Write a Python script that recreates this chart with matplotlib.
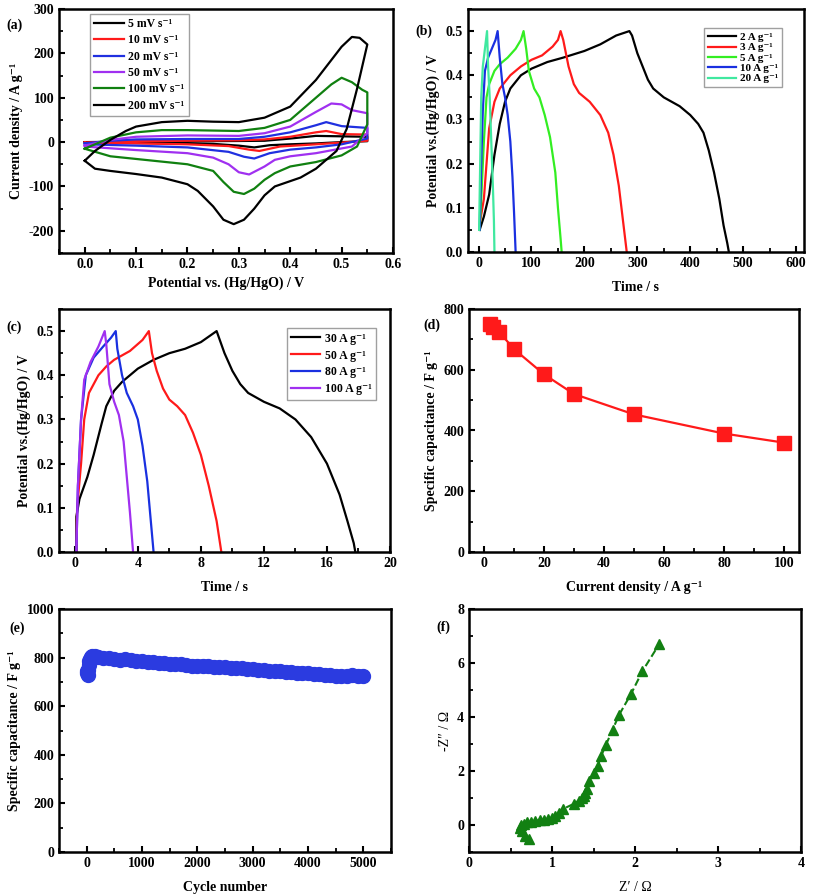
import numpy as np
import matplotlib
matplotlib.use("Agg")
import matplotlib.pyplot as plt
from matplotlib.ticker import MultipleLocator

plt.rcParams['font.family'] = ['Liberation Serif', 'DejaVu Serif']
plt.rcParams['font.weight'] = 'bold'
plt.rcParams['axes.labelweight'] = 'bold'
plt.rcParams['axes.linewidth'] = 1.8
plt.rcParams['xtick.direction'] = 'in'
plt.rcParams['ytick.direction'] = 'in'
plt.rcParams['xtick.major.width'] = 1.5
plt.rcParams['ytick.major.width'] = 1.5
plt.rcParams['xtick.minor.width'] = 1.3
plt.rcParams['ytick.minor.width'] = 1.3
plt.rcParams['xtick.major.size'] = 4
plt.rcParams['ytick.major.size'] = 4
plt.rcParams['xtick.minor.size'] = 3
plt.rcParams['ytick.minor.size'] = 3
plt.rcParams['font.size'] = 10
plt.rcParams['axes.unicode_minus'] = False

SUP = "\u207b\u00b9"  # superscript -1

# ---- (a) CV curves: anodic branch then cathodic branch ----
cv_labels = ["5 mV s" + SUP, "10 mV s" + SUP, "20 mV s" + SUP,
             "50 mV s" + SUP, "100 mV s" + SUP, "200 mV s" + SUP]
cv_colors = ["black", "#ff1a1a", "#2030e0", "#a030f0", "#108010", "black"]

cv5_x = [0.0, 0.1, 0.2, 0.3, 0.35, 0.4, 0.45, 0.5, 0.55, 0.55, 0.5, 0.45, 0.4, 0.36, 0.33, 0.3, 0.25, 0.2, 0.1, 0.0, 0.0]
cv5_y = [0, 1, 2, 2.5, 3, 8, 14, 13, 12, 2, 0, -3, -5, -7, -12, -8, -4, -3, -2, -1, 0]
cv10_x = [0.0, 0.1, 0.2, 0.3, 0.35, 0.4, 0.45, 0.47, 0.5, 0.55, 0.55, 0.5, 0.45, 0.38, 0.34, 0.32, 0.28, 0.2, 0.1, 0.0, 0.0]
cv10_y = [-1, 2, 3, 4, 6, 12, 22, 25, 18, 17, 3, -1, -5, -10, -20, -17, -9, -5, -3, -2, -1]
cv20_x = [0.0, 0.05, 0.1, 0.2, 0.3, 0.35, 0.4, 0.45, 0.47, 0.5, 0.55, 0.55, 0.5, 0.45, 0.4, 0.36, 0.33, 0.31, 0.28, 0.2, 0.1, 0.0, 0.0]
cv20_y = [-3, 3, 6, 7, 7, 12, 22, 38, 45, 36, 32, 8, -5, -12, -17, -25, -37, -33, -22, -12, -8, -5, -3]
cv50_x = [0.0, 0.05, 0.1, 0.2, 0.3, 0.35, 0.4, 0.45, 0.48, 0.5, 0.52, 0.55, 0.55, 0.52, 0.45, 0.4, 0.37, 0.35, 0.32, 0.3, 0.28, 0.25, 0.2, 0.1, 0.0, 0.0]
cv50_y = [-8, 5, 12, 15, 14, 20, 35, 68, 87, 85, 72, 65, 20, -10, -25, -32, -40, -55, -73, -68, -50, -35, -25, -18, -10, -8]
cv100_x = [0.0, 0.05, 0.1, 0.15, 0.2, 0.3, 0.35, 0.4, 0.45, 0.48, 0.5, 0.52, 0.54, 0.55, 0.55, 0.53, 0.5, 0.45, 0.4, 0.37, 0.35, 0.33, 0.31, 0.29, 0.27, 0.25, 0.2, 0.1, 0.05, 0.0]
cv100_y = [-15, 10, 22, 27, 27, 25, 32, 50, 100, 130, 145, 135, 118, 112, 40, -10, -30, -45, -55, -70, -85, -105, -117, -112, -90, -65, -50, -38, -32, -15]
cv200_x = [0.0, 0.02, 0.05, 0.08, 0.1, 0.15, 0.2, 0.25, 0.3, 0.35, 0.4, 0.45, 0.48, 0.5, 0.52, 0.535, 0.55, 0.53, 0.51, 0.49, 0.45, 0.42, 0.4, 0.37, 0.35, 0.33, 0.31, 0.29, 0.27, 0.25, 0.22, 0.2, 0.15, 0.1, 0.05, 0.02, 0.0]
cv200_y = [-42, -20, 5, 25, 35, 45, 48, 46, 45, 55, 80, 140, 185, 215, 237, 235, 220, 120, 30, -20, -60, -80, -88, -100, -120, -150, -175, -185, -175, -145, -110, -95, -80, -72, -65, -60, -42]

# ---- (b) GCD low current ----
b_labels = ["2 A g" + SUP, "3 A g" + SUP, "5 A g" + SUP, "10 A g" + SUP, "20 A g" + SUP]
b_colors = ["black", "#ff1a1a", "#33ee22", "#1a30e0", "#40e8a0"]
b2_t = [2, 10, 20, 30, 40, 50, 60, 80, 100, 130, 160, 200, 230, 260, 285, 290, 300, 310, 320, 330, 350, 380, 400, 415, 425, 435, 445, 455, 463, 470, 473]
b2_v = [0.05, 0.08, 0.13, 0.22, 0.29, 0.34, 0.37, 0.40, 0.415, 0.43, 0.44, 0.455, 0.47, 0.49, 0.5, 0.49, 0.45, 0.42, 0.39, 0.37, 0.35, 0.33, 0.31, 0.29, 0.27, 0.23, 0.18, 0.12, 0.06, 0.02, 0.0]
b3_t = [3, 10, 20, 30, 40, 60, 80, 100, 120, 140, 150, 155, 160, 170, 180, 190, 210, 230, 245, 255, 265, 272, 278, 280]
b3_v = [0.07, 0.12, 0.28, 0.34, 0.37, 0.40, 0.42, 0.435, 0.445, 0.465, 0.48, 0.5, 0.48, 0.42, 0.38, 0.36, 0.34, 0.31, 0.27, 0.22, 0.15, 0.08, 0.02, 0.0]
b5_t = [2, 5, 10, 15, 20, 30, 40, 55, 70, 80, 85, 90, 95, 100, 105, 115, 125, 135, 145, 150, 155, 157]
b5_v = [0.05, 0.12, 0.25, 0.35, 0.38, 0.41, 0.425, 0.44, 0.46, 0.48, 0.5, 0.46, 0.41, 0.39, 0.37, 0.35, 0.31, 0.26, 0.18, 0.10, 0.03, 0.0]
b10_t = [2, 5, 8, 12, 18, 25, 32, 36, 40, 45, 50, 55, 60, 64, 67, 69, 70]
b10_v = [0.05, 0.2, 0.32, 0.41, 0.44, 0.46, 0.48, 0.5, 0.44, 0.38, 0.35, 0.31, 0.25, 0.17, 0.09, 0.03, 0.0]
b20_t = [1, 3, 5, 8, 12, 16, 18, 21, 24, 27, 29, 30]
b20_v = [0.05, 0.2, 0.35, 0.42, 0.46, 0.5, 0.42, 0.35, 0.25, 0.15, 0.07, 0.0]

# ---- (c) GCD high current ----
c_labels = ["30 A g" + SUP, "50 A g" + SUP, "80 A g" + SUP, "100 A g" + SUP]
c_colors = ["black", "#ff1a1a", "#1a30e0", "#a030f0"]
c30_t = [0.1, 0.1, 0.3, 0.8, 1.2, 1.7, 2.0, 2.5, 3, 4, 5, 6, 7, 8, 9, 9.1, 9.5, 10, 10.5, 11, 12, 13, 14, 15, 16, 16.8, 17.3, 17.7, 17.8]
c30_v = [0.0, 0.08, 0.12, 0.17, 0.22, 0.29, 0.33, 0.365, 0.385, 0.415, 0.435, 0.45, 0.46, 0.475, 0.5, 0.49, 0.45, 0.41, 0.38, 0.36, 0.34, 0.325, 0.3, 0.26, 0.2, 0.13, 0.07, 0.02, 0.0]
c50_t = [0.1, 0.15, 0.4, 0.6, 0.9, 1.5, 2, 2.5, 3.5, 4.3, 4.7, 4.9, 5.2, 5.6, 6, 6.5, 7, 7.5, 8, 8.5, 9, 9.3]
c50_v = [0.0, 0.1, 0.2, 0.3, 0.36, 0.40, 0.42, 0.435, 0.455, 0.48, 0.5, 0.45, 0.41, 0.37, 0.345, 0.33, 0.31, 0.27, 0.22, 0.15, 0.07, 0.0]
c80_t = [0.1, 0.2, 0.4, 0.7, 1.2, 1.8, 2.3, 2.6, 2.7, 3.0, 3.3, 3.7, 4.0, 4.3, 4.6, 4.8, 5.0]
c80_v = [0.0, 0.15, 0.3, 0.4, 0.44, 0.465, 0.485, 0.5, 0.46, 0.40, 0.36, 0.33, 0.30, 0.24, 0.16, 0.08, 0.0]
c100_t = [0.1, 0.2, 0.4, 0.6, 1.0, 1.5, 1.9, 2.0, 2.2, 2.5, 2.8, 3.1, 3.3, 3.5, 3.7]
c100_v = [0.0, 0.15, 0.3, 0.39, 0.43, 0.465, 0.5, 0.47, 0.38, 0.34, 0.31, 0.25, 0.17, 0.09, 0.0]

# ---- (d) rate capability ----
d_current = [2, 3, 5, 10, 20, 30, 50, 80, 100]
d_cap = [750, 740, 725, 668, 585, 520, 453, 390, 360]

# ---- (e) cycling ----
e_cycle = [1, 10, 20, 30, 40, 50, 60, 80, 100, 150, 200, 300, 400, 500, 600, 700, 800, 900, 1000,
           1100, 1200, 1300, 1400, 1500, 1600, 1700, 1800, 1900, 2000, 2100, 2200, 2300, 2400, 2500,
           2600, 2700, 2800, 2900, 3000, 3100, 3200, 3300, 3400, 3500, 3600, 3700, 3800, 3900, 4000,
           4100, 4200, 4300, 4400, 4500, 4600, 4700, 4800, 4900, 5000]
e_cap = [745, 735, 730, 750, 770, 785, 795, 802, 808, 806, 804, 800, 797, 795, 790, 795, 790, 786, 785,
         780, 781, 776, 777, 775, 772, 774, 768, 767, 766, 767, 764, 762, 760, 760,
         758, 756, 756, 754, 752, 750, 747, 745, 743, 744, 741, 739, 737, 738, 735,
         733, 731, 729, 727, 725, 724, 724, 727, 725, 724]

# ---- (f) Nyquist ----
f_zre = [0.72, 0.68, 0.64, 0.62, 0.63, 0.66, 0.70, 0.75, 0.80, 0.85, 0.90, 0.95, 1.00, 1.04, 1.08, 1.13,
         1.26, 1.32, 1.36, 1.38, 1.40, 1.42, 1.44, 1.51, 1.55, 1.59, 1.65, 1.73, 1.81, 1.95, 2.09, 2.29]
f_zim = [-0.52, -0.4, -0.22, -0.1, 0.0, 0.05, 0.1, 0.12, 0.15, 0.18, 0.2, 0.22, 0.27, 0.35, 0.45, 0.59,
         0.78, 0.9, 1.0, 1.09, 1.2, 1.34, 1.63, 1.93, 2.18, 2.54, 2.97, 3.53, 4.09, 4.84, 5.70, 6.69]

W, H = 813, 896
fig = plt.figure(figsize=(W / 100, H / 100), dpi=100)


def px_axes(left, top, right, bottom):
    return fig.add_axes([left / W, 1 - bottom / H, (right - left) / W, (bottom - top) / H])


ax_a = px_axes(59, 9, 393, 253)
ax_b = px_axes(468, 9, 804, 252)
ax_c = px_axes(59, 309, 390, 552)
ax_d = px_axes(469, 309, 799, 552)
ax_e = px_axes(59, 609, 391, 852)
ax_f = px_axes(469, 609, 801, 852)

leg_kw = dict(frameon=True, fancybox=False, edgecolor='#888888', handlelength=2.5,
              borderpad=0.35, handletextpad=0.4, borderaxespad=0)

# (a)
cv_x = [cv5_x, cv10_x, cv20_x, cv50_x, cv100_x, cv200_x]
cv_y = [cv5_y, cv10_y, cv20_y, cv50_y, cv100_y, cv200_y]
for xs, ys, c, lab in zip(cv_x, cv_y, cv_colors, cv_labels):
    ax_a.plot(xs, ys, color=c, lw=1.6, label=lab)
ax_a.set_xlim(-0.05, 0.6)
ax_a.set_ylim(-250, 300)
ax_a.xaxis.set_major_locator(MultipleLocator(0.1))
ax_a.xaxis.set_minor_locator(MultipleLocator(0.05))
ax_a.yaxis.set_major_locator(MultipleLocator(100))
ax_a.yaxis.set_minor_locator(MultipleLocator(50))
ax_a.set_xlabel("Potential vs. (Hg/HgO) / V", labelpad=4)
ax_a.set_ylabel("Current density / A g" + SUP)
ax_a.legend(loc='upper left', bbox_to_anchor=(0.093, 0.98), fontsize=8.5, labelspacing=0.37, **leg_kw)

# (b)
for ts, vs, c, lab in zip([b2_t, b3_t, b5_t, b10_t, b20_t], [b2_v, b3_v, b5_v, b10_v, b20_v], b_colors, b_labels):
    ax_b.plot(ts, vs, color=c, lw=1.6, label=lab)
ax_b.set_xlim(-20, 615)
ax_b.set_ylim(0, 0.55)
ax_b.xaxis.set_major_locator(MultipleLocator(100))
ax_b.xaxis.set_minor_locator(MultipleLocator(50))
ax_b.yaxis.set_major_locator(MultipleLocator(0.1))
ax_b.yaxis.set_minor_locator(MultipleLocator(0.05))
ax_b.set_xlabel("Time / s", labelpad=8)
ax_b.set_ylabel("Potential vs.(Hg/HgO) / V")
ax_b.legend(loc='upper right', bbox_to_anchor=(0.935, 0.92), fontsize=8, labelspacing=0.05, **leg_kw)

# (c)
for ts, vs, c, lab in zip([c30_t, c50_t, c80_t, c100_t], [c30_v, c50_v, c80_v, c100_v], c_colors, c_labels):
    ax_c.plot(ts, vs, color=c, lw=1.6, label=lab)
ax_c.set_xlim(-1, 20)
ax_c.set_ylim(0, 0.55)
ax_c.xaxis.set_major_locator(MultipleLocator(4))
ax_c.xaxis.set_minor_locator(MultipleLocator(2))
ax_c.yaxis.set_major_locator(MultipleLocator(0.1))
ax_c.yaxis.set_minor_locator(MultipleLocator(0.05))
ax_c.set_xlabel("Time / s", labelpad=8)
ax_c.set_ylabel("Potential vs.(Hg/HgO) / V")
ax_c.legend(loc='upper right', bbox_to_anchor=(0.958, 0.92), fontsize=8.5, labelspacing=0.42, **leg_kw)

# (d)
ax_d.plot(d_current, d_cap, color='#ff1a1a', lw=1.6, marker='s', ms=10)
ax_d.set_xlim(-5, 105)
ax_d.set_ylim(0, 800)
ax_d.xaxis.set_major_locator(MultipleLocator(20))
ax_d.xaxis.set_minor_locator(MultipleLocator(10))
ax_d.yaxis.set_major_locator(MultipleLocator(200))
ax_d.yaxis.set_minor_locator(MultipleLocator(100))
ax_d.set_xlabel("Current density / A g" + SUP, labelpad=8)
ax_d.set_ylabel("Specific capacitance / F g" + SUP)

# (e)
ax_e.plot(e_cycle, e_cap, color='#2b3be0', lw=0, marker='o', ms=10)
ax_e.plot(e_cycle, e_cap, color='#2b3be0', lw=9, solid_capstyle='round')
ax_e.set_xlim(-500, 5500)
ax_e.set_ylim(0, 1000)
ax_e.xaxis.set_major_locator(MultipleLocator(1000))
ax_e.xaxis.set_minor_locator(MultipleLocator(500))
ax_e.yaxis.set_major_locator(MultipleLocator(200))
ax_e.yaxis.set_minor_locator(MultipleLocator(100))
ax_e.set_xlabel("Cycle number", labelpad=8)
ax_e.set_ylabel("Specific capacitance / F g" + SUP)

# (f)
ax_f.plot(f_zre, f_zim, color='#128012', lw=1.5, ls='--', marker='^', ms=7.5)
ax_f.set_xlim(0, 4)
ax_f.set_ylim(-1, 8)
ax_f.xaxis.set_major_locator(MultipleLocator(1))
ax_f.xaxis.set_minor_locator(MultipleLocator(0.5))
ax_f.yaxis.set_major_locator(MultipleLocator(2))
ax_f.yaxis.set_minor_locator(MultipleLocator(1))
ax_f.set_xlabel("Z\u2032 / \u03a9", fontweight='normal', labelpad=8)
ax_f.set_ylabel("-Z\u2033 / \u03a9", fontweight='normal')

for ax in [ax_a, ax_b, ax_c, ax_d, ax_e, ax_f]:
    for lbl in ax.get_xticklabels() + ax.get_yticklabels():
        lbl.set_fontweight('bold')

# panel tags, placed in figure pixels
tag_pos = {"(a)": (6, 25), "(b)": (415, 31), "(c)": (6, 327),
           "(d)": (423, 325), "(e)": (9, 628), "(f)": (436, 627)}
for tag, (x, y) in tag_pos.items():
    fig.text(x / W, 1 - y / H, tag, fontsize=10, fontweight='bold', va='center', ha='left')

fig.savefig("out.png", dpi=100)
